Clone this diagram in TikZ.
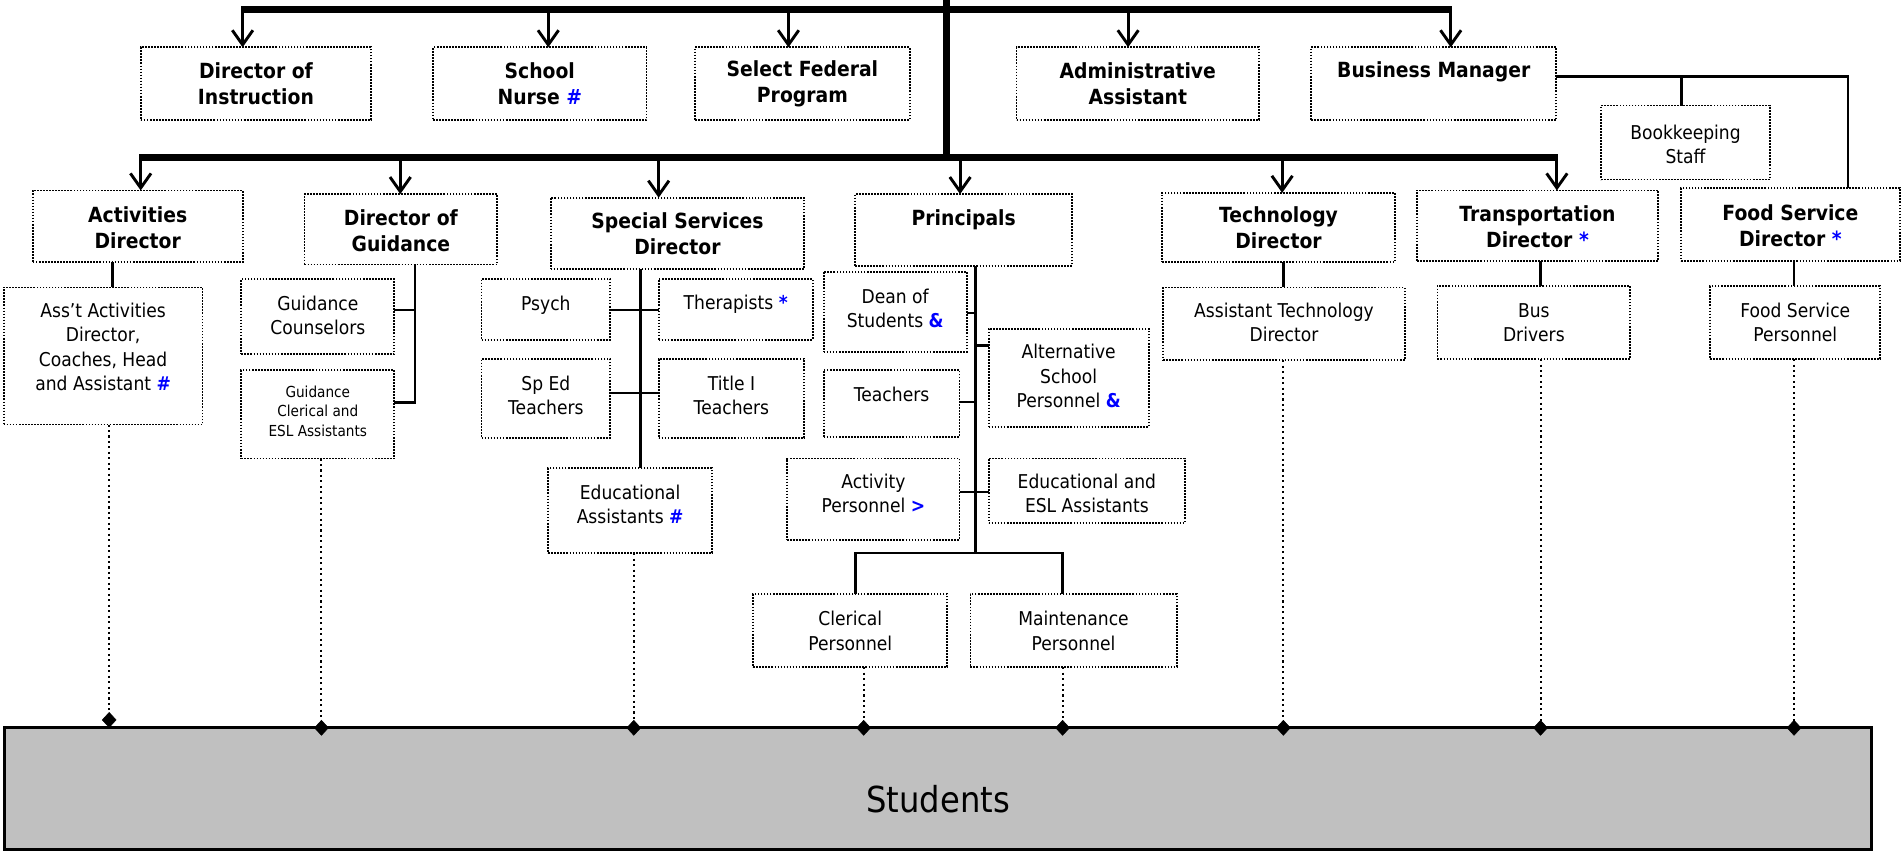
\documentclass[tikz,border=0pt]{standalone}
\usepackage{fontspec}
\setmainfont{DejaVu Sans}[FakeStretch=0.9]
\usetikzlibrary{arrows.meta}
\definecolor{markblue}{RGB}{0,0,255}
\definecolor{stugray}{RGB}{192,192,192}
\newcommand\bluemark[1]{\textcolor{markblue}{\bfseries #1}}
\newcommand\orgbox[8]{%
  \node[box, minimum width={(#4)-(#2)}, minimum height={(#5)-(#3)}] (#1) at ({((#2)+(#4))/2},{((#3)+(#5))/2}) {};
  \node[#6] (#1t) at ({((#2)+(#4))/2},#7) {#8};}
\begin{document}
\begin{tikzpicture}[x=1pt,y=-1pt,
  box/.style={draw=black, line width=1.5pt, dash pattern=on 1.4pt off 1.1pt, inner sep=0pt, outer sep=0pt},
  hd/.style={font=\fontsize{17.2}{21.5}\selectfont\bfseries, align=center, inner sep=0pt},
  tx/.style={font=\fontsize{15.7}{20}\selectfont, align=center, inner sep=0pt},
  sm/.style={font=\fontsize{12.5}{16}\selectfont, align=center, inner sep=0pt},
  bar/.style={line width=6pt},
  arr/.style={line width=2.4pt, -{Straight Barb[length=12pt,width=17pt]}},
  link/.style={line width=2.2pt},
  dotl/.style={line width=1.7pt, dash pattern=on 1.7pt off 2.8pt, -{Diamond[length=13pt,width=12pt,line width=0.4pt]}},
  stu/.style={draw=black, fill=stugray, line width=2.5pt, inner sep=0pt},
  stutext/.style={font=\fontsize{29.5}{34}\selectfont, inner sep=0pt}]
\useasboundingbox (0,0) rectangle (1568,702);

% Students
\node[stu, minimum width=1539pt, minimum height=100pt] (students) at (773.5,650) {};
\node[stutext] (studentst) at (773.5,659) {Students};

% boxes
\orgbox{instr}{116}{39}{306}{99}{hd}{69}{Director of\\Instruction}
\orgbox{nurse}{357}{39}{533}{99}{hd}{69}{School\\Nurse \bluemark{\#}}
\orgbox{federal}{573}{39}{750}{99}{hd}{69}{Select Federal\\Program}
\orgbox{admin}{838}{39}{1038}{99}{hd}{69}{Administrative\\Assistant}
\orgbox{busmgr}{1081}{39}{1283}{99}{hd}{59}{Business Manager}
\orgbox{bookkeep}{1320}{87}{1459}{148}{tx}{119}{Bookkeeping\\Staff}

\orgbox{actdir}{27}{157}{200}{216}{hd}{188}{Activities\\Director}
\orgbox{guiddir}{251}{160}{410}{218}{hd}{190}{Director of\\Guidance}
\orgbox{ssdir}{454}{163}{663}{222}{hd}{193}{Special Services\\Director}
\orgbox{princ}{705}{160}{884}{219}{hd}{181}{Principals}
\orgbox{techdir}{958}{159}{1150}{216}{hd}{188}{Technology\\Director}
\orgbox{transdir}{1168}{157}{1367}{215}{hd}{187}{Transportation\\Director \bluemark{*}}
\orgbox{fooddir}{1386}{155}{1566}{215}{hd}{186}{Food Service\\Director \bluemark{*}}

\orgbox{asstact}{3}{237}{167}{350}{tx}{286}{Ass’t Activities\\Director,\\Coaches, Head\\and Assistant \bluemark{\#}}
\orgbox{guidcoun}{199}{230}{325}{292}{tx}{260}{Guidance\\Counselors}
\orgbox{guidcler}{199}{305}{325}{378}{sm}{339}{Guidance\\Clerical and\\ESL Assistants}
\orgbox{psych}{397}{230}{503}{280}{tx}{252}{Psych}
\orgbox{ther}{543}{230}{670}{280}{tx}{251}{Therapists \bluemark{*}}
\orgbox{sped}{397}{296}{503}{361}{tx}{326}{Sp Ed\\Teachers}
\orgbox{title}{543}{296}{663}{361}{tx}{326}{Title I\\Teachers}
\orgbox{edasst}{452}{386}{587}{456}{tx}{416}{Educational\\Assistants \bluemark{\#}}
\orgbox{dean}{679}{224}{797}{290}{tx}{254}{Dean of\\Students \bluemark{\&}}
\orgbox{alt}{815}{271}{947}{352}{tx}{310}{Alternative\\School\\Personnel \bluemark{\&}}
\orgbox{teach}{679}{305}{791}{360}{tx}{325}{Teachers}
\orgbox{actpers}{649}{378}{791}{445}{tx}{407}{Activity\\Personnel \bluemark{>}}
\orgbox{edesl}{815}{378}{977}{431}{tx}{407}{Educational and\\ESL Assistants}
\orgbox{cler}{621}{490}{781}{550}{tx}{520}{Clerical\\Personnel}
\orgbox{maint}{800}{490}{970}{550}{tx}{520}{Maintenance\\Personnel}
\orgbox{assttech}{959}{237}{1158}{297}{tx}{266}{Assistant Technology\\Director}
\orgbox{bus}{1185}{236}{1344}{296}{tx}{266}{Bus\\Drivers}
\orgbox{foodpers}{1410}{236}{1550}{296}{tx}{266}{Food Service\\Personnel}

% main trunk and bars
\coordinate (top) at (780.5,0);
\coordinate (hub) at (780.5,133);
\coordinate (a1) at (200,8);
\coordinate (a2) at (452,8);
\coordinate (a3) at (650,8);
\coordinate (a4) at (930,8);
\coordinate (a5) at (1196,8);
\coordinate (b1) at (116,130);
\coordinate (b2) at (330,130);
\coordinate (b3) at (543,130);
\coordinate (b4) at (791.5,130);
\coordinate (b5) at (1057,130);
\coordinate (b6) at (1283.5,130);
\draw[bar] (top) -- (hub);
\draw[bar] ([xshift=-1.2pt]a1) -- ([xshift=1.2pt]a5);
\draw[bar] ([xshift=-1.2pt]b1) -- ([xshift=1.2pt]b6);

\draw[arr] (a1) -- (a1 |- instr.north);
\draw[arr] (a2) -- (a2 |- nurse.north);
\draw[arr] (a3) -- (a3 |- federal.north);
\draw[arr] (a4) -- (a4 |- admin.north);
\draw[arr] (a5) -- (a5 |- busmgr.north);
\draw[arr] (b1) -- (b1 |- actdir.north);
\draw[arr] (b2) -- (b2 |- guiddir.north);
\draw[arr] (b3) -- (b3 |- ssdir.north);
\draw[arr] (b4) -- (b4 |- princ.north);
\draw[arr] (b5) -- (b5 |- techdir.north);
\draw[arr] (b6) -- (b6 |- transdir.north);

% business manager
\coordinate (bm1) at (1523.5,63);
\coordinate (bm2) at (1386,63);
\draw[link] (bm1 -| busmgr.east) -- (bm1) -- (bm1 |- fooddir.north);
\draw[link] (bm2) -- (bm2 |- bookkeep.north);

% activities
\coordinate (ac) at (93,0);
\draw[link] (ac |- actdir.south) -- (ac |- asstact.north);

% guidance
\coordinate (g1) at (342,255.6);
\coordinate (g2) at (342,332);
\draw[link] (g1 |- guiddir.south) -- (g2) -- (g2 -| guidcler.east);
\draw[link] (g1) -- (g1 -| guidcoun.east);

% special services
\coordinate (ss1) at (528,255.6);
\coordinate (ss2) at (528,324);
\draw[link] (ss1 |- ssdir.south) -- (ss1 |- edasst.north);
\draw[link] (ss1 -| psych.east) -- (ss1 -| ther.west);
\draw[link] (ss2 -| sped.east) -- (ss2 -| title.west);

% principals
\coordinate (p1) at (804,258);
\coordinate (p2) at (804,285);
\coordinate (p3) at (804,331.5);
\coordinate (p4) at (804,405.7);
\coordinate (p5) at (804,456);
\coordinate (pl) at (705,456);
\coordinate (pr) at (876,456);
\draw[link] (p1 |- princ.south) -- (p5);
\draw[link] (p1 -| dean.east) -- (p1);
\draw[link] (p2) -- (p2 -| alt.west);
\draw[link] (p3 -| teach.east) -- (p3);
\draw[link] (p4 -| actpers.east) -- (p4 -| edesl.west);
\draw[link] (pl |- cler.north) -- (pl) -- (pr) -- (pr |- maint.north);

% tech, transport, food
\coordinate (tc) at (1058,0);
\coordinate (tr) at (1270,0);
\coordinate (fd) at (1479,0);
\draw[link] (tc |- techdir.south) -- (tc |- assttech.north);
\draw[link] (tr |- transdir.south) -- (tr |- bus.north);
\draw[link] (fd |- fooddir.south) -- (fd |- foodpers.north);

% dotted links to students
\coordinate (s1) at (90,600);
\coordinate (s2) at (265,606.5);
\coordinate (s3) at (522.5,606.5);
\coordinate (s4) at (712,606.5);
\coordinate (s5) at (876,606.5);
\coordinate (s6) at (1058,606.5);
\coordinate (s7) at (1270,606.5);
\coordinate (s8) at (1479,606.5);
\draw[dotl] (s1 |- asstact.south) -- (s1);
\draw[dotl] (s2 |- guidcler.south) -- (s2);
\draw[dotl] (s3 |- edasst.south) -- (s3);
\draw[dotl] (s4 |- cler.south) -- (s4);
\draw[dotl] (s5 |- maint.south) -- (s5);
\draw[dotl] (s6 |- assttech.south) -- (s6);
\draw[dotl] (s7 |- bus.south) -- (s7);
\draw[dotl] (s8 |- foodpers.south) -- (s8);
\end{tikzpicture}
\end{document}
